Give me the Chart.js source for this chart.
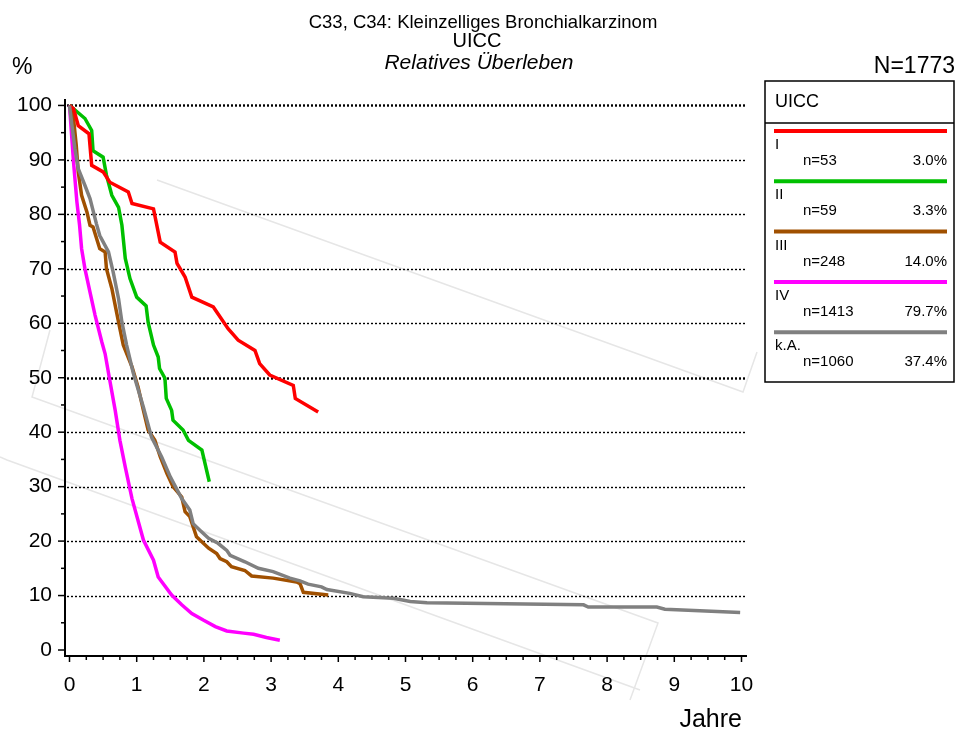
<!DOCTYPE html>
<html>
<head>
<meta charset="utf-8">
<script src="https://cdn.jsdelivr.net/npm/chart.js@4.4.1/dist/chart.umd.min.js"></script>
<style>
    html, body { margin: 0; padding: 0; background: #fff; }
</style>
</head>
<body>
<canvas id="survivalChart" width="957" height="730"></canvas>
<script>
// --- Data (years since diagnosis / relative survival %) ---
const seriesNames  = ['I', 'II', 'III', 'IV', 'k.A.'];
const seriesCounts = ['n=53', 'n=59', 'n=248', 'n=1413', 'n=1060'];
const seriesShares = ['3.0%', '3.3%', '14.0%', '79.7%', '37.4%'];
const seriesColors = ['#ff0000', '#00c000', '#a05000', '#ff00ff', '#808080'];

const yearsI = [0, 0.06, 0.13, 0.29, 0.33, 0.50, 0.60, 0.875, 0.93, 1.25, 1.35, 1.57, 1.60, 1.72, 1.82, 2.14, 2.36, 2.51, 2.76, 2.83, 2.98, 3.33, 3.36, 3.70];
const survI  = [100, 99.4, 96.3, 94.8, 89.0, 87.8, 85.9, 84.1, 82.0, 81.0, 74.9, 73.1, 71.0, 68.5, 64.8, 63.0, 59.0, 56.9, 55.0, 52.6, 50.5, 48.6, 46.2, 43.7];

const yearsII = [0, 0.23, 0.33, 0.35, 0.50, 0.55, 0.63, 0.73, 0.78, 0.83, 0.90, 1.00, 1.14, 1.17, 1.25, 1.32, 1.34, 1.42, 1.44, 1.52, 1.54, 1.69, 1.77, 1.97, 2.08];
const survII  = [100, 97.6, 95.4, 91.7, 90.5, 87.2, 83.5, 81.3, 78.0, 71.9, 68.2, 64.8, 63.2, 60.2, 56.0, 53.8, 51.7, 49.9, 46.2, 44.0, 42.2, 40.4, 38.5, 36.7, 30.9];

const yearsIII = [0, 0.06, 0.10, 0.13, 0.18, 0.26, 0.305, 0.35, 0.45, 0.53, 0.55, 0.63, 0.68, 0.73, 0.80, 0.93, 1.02, 1.10, 1.17, 1.27, 1.35, 1.45, 1.54, 1.67, 1.72, 1.79, 1.89, 2.07, 2.19, 2.24, 2.34, 2.41, 2.61, 2.71, 3.03, 3.38, 3.43, 3.48, 3.85];
const survIII  = [100, 97.6, 92.7, 87.8, 83.5, 80.4, 78.0, 77.7, 73.7, 73.1, 70.0, 66.4, 63.3, 60.2, 56.0, 52.0, 48.3, 44.0, 40.4, 38.5, 35.5, 32.4, 30.0, 28.1, 25.4, 24.5, 20.8, 18.7, 17.7, 16.8, 16.2, 15.3, 14.6, 13.6, 13.2, 12.5, 12.2, 10.6, 10.1];

const yearsIV = [0, 0.06, 0.11, 0.15, 0.18, 0.23, 0.305, 0.38, 0.48, 0.53, 0.60, 0.68, 0.75, 0.83, 0.93, 1.10, 1.25, 1.32, 1.52, 1.67, 1.82, 1.99, 2.17, 2.34, 2.59, 2.74, 2.93, 3.13];
const survIV  = [100, 89.6, 82.3, 78.0, 73.7, 70.0, 65.7, 61.5, 56.6, 54.4, 49.5, 44.0, 38.5, 33.6, 27.8, 20.2, 16.5, 13.4, 10.1, 8.3, 6.7, 5.5, 4.3, 3.5, 3.1, 2.9, 2.3, 1.8];

const yearsKA = [0, 0.03, 0.08, 0.13, 0.23, 0.305, 0.40, 0.45, 0.58, 0.65, 0.73, 0.78, 0.85, 0.95, 1.10, 1.22, 1.37, 1.50, 1.67, 1.79, 1.84, 1.94, 2.07, 2.21, 2.34, 2.39, 2.61, 2.81, 3.03, 3.28, 3.43, 3.55, 3.75, 3.83, 4.17, 4.37, 4.82, 5.07, 5.32, 7.65, 7.72, 8.74, 8.86, 9.38, 9.98];
const survKA  = [100, 96.9, 92.1, 88.4, 85.3, 82.9, 78.3, 76.1, 73.1, 69.4, 64.5, 60.2, 56.0, 50.8, 44.6, 39.1, 35.5, 31.8, 27.8, 25.7, 23.2, 22.0, 20.5, 19.6, 18.3, 17.4, 16.2, 15.0, 14.4, 13.2, 12.7, 12.1, 11.6, 11.1, 10.4, 9.8, 9.5, 8.9, 8.7, 8.3, 7.9, 7.9, 7.5, 7.2, 6.9];

const xTicks = [0, 1, 2, 3, 4, 5, 6, 7, 8, 9, 10];
const yTicks = [0, 10, 20, 30, 40, 50, 60, 70, 80, 90, 100];
const xMinorStep = 0.25;
const yMinorStep = 5;

const FONT = "'Liberation Sans', Arial, sans-serif";

const seriesYears = [yearsI, yearsII, yearsIII, yearsIV, yearsKA];
const seriesSurv  = [survI, survII, survIII, survIV, survKA];

// faint background logo strokes (canvas pixels, decoration only)
const watermarkPaths = [
    [[50, 330], [32, 397], [658, 623], [630, 700]],
    [[0, 457], [7, 460], [640, 690]],
    [[157, 180], [743, 392], [757, 352]]
];

// --- Titles, dotted grid, tick marks and the legend box ---
const decorations = {
    id: 'decorations',
    beforeDraw(chart) {
        const { ctx } = chart;
        ctx.save();
        ctx.strokeStyle = '#e6e6e6';
        ctx.lineWidth = 1.5;
        watermarkPaths.forEach(path => {
            ctx.beginPath();
            path.forEach(([px, py], k) => k ? ctx.lineTo(px, py) : ctx.moveTo(px, py));
            ctx.stroke();
        });
        ctx.restore();
    },
    beforeDatasetsDraw(chart) {
        const { ctx, chartArea, scales: { x, y } } = chart;
        ctx.save();
        ctx.strokeStyle = '#000';

        // dotted horizontal grid (50 and 100 heavier)
        yTicks.forEach(v => {
            if (v === 0) return;
            const py = Math.round(y.getPixelForValue(v)) + 0.5;
            ctx.lineWidth = (v === 100 || v === 50) ? 2.4 : 1.4;
            ctx.setLineDash([2, 2]);
            ctx.beginPath();
            ctx.moveTo(chartArea.left + 2, py);
            ctx.lineTo(chartArea.right, py);
            ctx.stroke();
        });
        ctx.setLineDash([]);

        // tick marks
        ctx.lineWidth = 1.5;
        for (let v = 0; v <= 100; v += yMinorStep) {
            const py = y.getPixelForValue(v);
            const len = v % 10 === 0 ? 7 : 4;
            ctx.beginPath();
            ctx.moveTo(chartArea.left - len, py);
            ctx.lineTo(chartArea.left, py);
            ctx.stroke();
        }
        for (let v = 0; v <= 10.001; v += xMinorStep) {
            const px = x.getPixelForValue(v);
            const len = Math.abs(v - Math.round(v)) < 1e-6 ? 6 : 4;
            ctx.beginPath();
            ctx.moveTo(px, chartArea.bottom);
            ctx.lineTo(px, chartArea.bottom + len);
            ctx.stroke();
        }
        ctx.restore();
    },
    afterDraw(chart) {
        const { ctx } = chart;
        ctx.save();
        ctx.fillStyle = '#000';
        ctx.textBaseline = 'alphabetic';

        // titles
        ctx.textAlign = 'center';
        ctx.font = `18.5px ${FONT}`;
        ctx.fillText('C33, C34: Kleinzelliges Bronchialkarzinom', 483, 28);
        ctx.font = `20px ${FONT}`;
        ctx.fillText('UICC', 477, 47);
        ctx.font = `italic 21px ${FONT}`;
        ctx.fillText('Relatives Überleben', 479, 69);

        ctx.textAlign = 'left';
        ctx.font = `23px ${FONT}`;
        ctx.fillText('%', 12, 74);
        ctx.textAlign = 'right';
        ctx.font = `23px ${FONT}`;
        ctx.fillText('N=1773', 955, 73);
        ctx.font = `25px ${FONT}`;
        ctx.fillText('Jahre', 742, 727);

        // legend box
        const bx = 765, by = 81, bw = 189, bh = 301;
        ctx.strokeStyle = '#000';
        ctx.lineWidth = 1.5;
        ctx.strokeRect(bx, by, bw, bh);
        ctx.beginPath();
        ctx.moveTo(bx, 123);
        ctx.lineTo(bx + bw, 123);
        ctx.stroke();

        ctx.textAlign = 'left';
        ctx.font = `18px ${FONT}`;
        ctx.fillText('UICC', 775, 107);

        seriesNames.forEach((name, i) => {
            const ly = 131 + i * 50.3;
            ctx.strokeStyle = seriesColors[i];
            ctx.lineWidth = 4;
            ctx.beginPath();
            ctx.moveTo(774, ly);
            ctx.lineTo(947, ly);
            ctx.stroke();

            ctx.font = `15px ${FONT}`;
            ctx.textAlign = 'left';
            ctx.fillText(name, 775, ly + 18);
            ctx.fillText(seriesCounts[i], 803, ly + 34);
            ctx.textAlign = 'right';
            ctx.fillText(seriesShares[i], 947, ly + 34);
        });
        ctx.restore();
    }
};

const ctx = document.getElementById('survivalChart').getContext('2d');

const survivalChart = new Chart(ctx, {
    type: 'line',
    data: {
        datasets: seriesNames.map((name, i) => ({
            label: name,
            data: seriesYears[i].map((t, k) => ({ x: t, y: seriesSurv[i][k] })),
            borderColor: seriesColors[i],
            borderWidth: 3.5,
            pointRadius: 0,
            tension: 0,
            fill: false,
            order: i === 4 ? 0 : i + 1   // grey drawn on top
        }))
    },
    options: {
        responsive: false,
        animation: false,
        layout: { padding: { top: 100, right: 211, left: 0, bottom: 0 } },
        plugins: {
            legend: { display: false },
            tooltip: { enabled: false }
        },
        scales: {
            x: {
                type: 'linear',
                min: -0.067,
                max: 10.067,
                afterBuildTicks: s => { s.ticks = xTicks.map(v => ({ value: v })); },
                afterFit: s => { s.height = 74; },
                ticks: {
                    color: '#000',
                    font: { size: 21, family: FONT },
                    padding: 17,
                    autoSkip: false,
                    maxRotation: 0
                },
                grid: { display: false, drawTicks: false },
                border: { display: true, color: '#000', width: 2 }
            },
            y: {
                type: 'linear',
                min: -1.1,
                max: 101,
                afterBuildTicks: s => { s.ticks = yTicks.map(v => ({ value: v })); },
                afterFit: s => { s.width = 65; },
                ticks: {
                    color: '#000',
                    font: { size: 21, family: FONT },
                    padding: 13
                },
                grid: { display: false, drawTicks: false },
                border: { display: true, color: '#000', width: 2 }
            }
        }
    },
    plugins: [decorations]
});
</script>
</body>
</html>
